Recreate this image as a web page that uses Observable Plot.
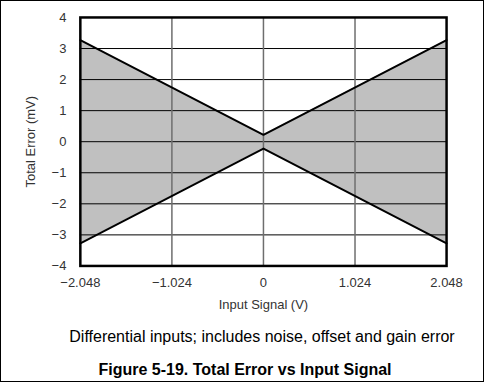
<!DOCTYPE html>
<html>
<head>
<meta charset="utf-8">
<script src="https://cdn.jsdelivr.net/npm/d3@7"></script>
<script src="https://cdn.jsdelivr.net/npm/@observablehq/plot@0.6"></script>
<style>
  html, body { margin: 0; padding: 0; background: #fff; }
  #frame { position: relative; width: 482px; height: 380px; border: 1px solid #000; font-family: "Liberation Sans", Arial, sans-serif; overflow: hidden; }
  #chart { position: absolute; left: -1px; top: -1px; }
  .cap { position: absolute; left: 0; width: 100%; text-align: center; color: #000; font-size: 16px; line-height: 18px; white-space: nowrap; }
</style>
</head>
<body>
<div id="frame">
  <div id="chart"></div>
  <div class="cap" id="sub" style="top:327px;left:20px;">Differential inputs; includes noise, offset and gain error</div>
  <div class="cap" id="ttl" style="top:360px;left:3px;font-weight:bold;">Figure 5-19. Total Error vs Input Signal</div>
</div>
<script>
const inputSignal = [-2.048, 0, 2.048];
const upperError = [3.27, 0.22, 3.27];
const lowerError = [-3.27, -0.22, -3.27];
const xTicks = [-2.048, -1.024, 0, 1.024, 2.048];
const yTicks = [-4, -3, -2, -1, 0, 1, 2, 3, 4];
const xGrid = [-1.024, 0, 1.024];
const yGrid = [-3, -2, -1, 0, 1, 2, 3];

const rows = inputSignal.map((x, i) => ({x, hi: upperError[i], lo: lowerError[i]}));
const fmtX = d => d === 0 ? "0" : d.toFixed(3).replace("-", "\u2212");
const fmtY = d => String(d).replace("-", "\u2212");

const chart = Plot.plot({
  width: 484,
  height: 320,
  marginLeft: 80,
  marginRight: 37,
  marginTop: 17,
  marginBottom: 54,
  style: { fontFamily: "'Liberation Sans', Arial, sans-serif", fontSize: "13px", background: "transparent" },
  x: { domain: [-2.048, 2.048] },
  y: { domain: [-4, 4] },
  marks: [
    Plot.areaY(rows, {x: "x", y1: "lo", y2: "hi", fill: "#c0c0c0"}),
    Plot.ruleY(yGrid, {stroke: "#000", strokeWidth: 1}),
    Plot.ruleX(xGrid, {stroke: "#6e6e6e", strokeWidth: 1.5}),
    Plot.lineY(rows, {x: "x", y: "hi", stroke: "#000", strokeWidth: 2}),
    Plot.lineY(rows, {x: "x", y: "lo", stroke: "#000", strokeWidth: 2}),
    Plot.frame({stroke: "#000", strokeWidth: 2.5}),
    Plot.axisX(xTicks, {tickSize: 0, tickPadding: 12, tickFormat: fmtX, fill: "#333", label: "Input Signal (V)", labelAnchor: "center", labelArrow: "none", labelOffset: 43}),
    Plot.axisY(yTicks, {tickSize: 0, tickPadding: 14, tickFormat: fmtY, fill: "#333", label: "Total Error (mV)", labelAnchor: "center", labelArrow: "none", labelOffset: 55})
  ]
});
document.getElementById("chart").appendChild(chart);
</script>
</body>
</html>
